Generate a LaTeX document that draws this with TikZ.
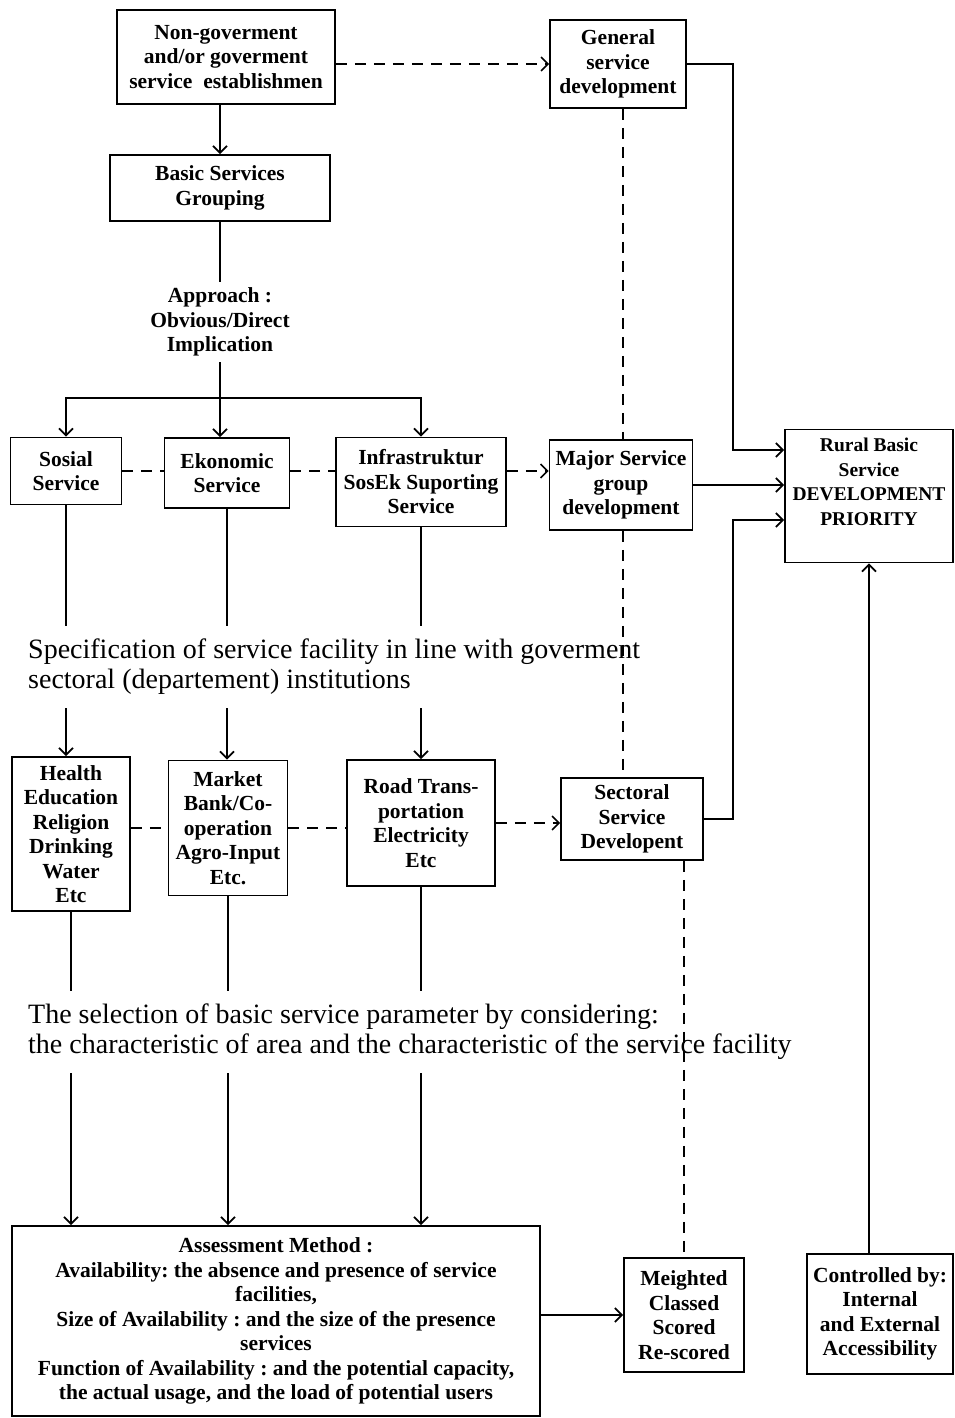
\documentclass[tikz,border=0pt]{standalone}
\usepackage{fontspec}
\setmainfont{Liberation Serif}
\usetikzlibrary{arrows.meta}
\frenchspacing

\begin{document}
\begin{tikzpicture}[x=1pt, y=-1pt,
		blk/.style={draw, line width=1.6pt, align=center, inner sep=0pt, font=\boxfont},
		thk/.style={line width=1.8pt},
		arr/.style={thk, -{Straight Barb[length=7pt, width=14pt, line width=1.8pt]}},
		dsh/.style={line width=1.5pt, dash pattern=on 11pt off 8pt},
		dsharr/.style={dsh, -{Straight Barb[length=7pt, width=14pt, line width=1.6pt]}}]
		
		% Define font sizes
		
		\newcommand{\boxfont}{\bfseries\fontsize{21.5}{24.5}\selectfont}
		
		\newcommand{\smallboxfont}{\bfseries\fontsize{19.5}{24.5}\selectfont}
		
		\newcommand{\bigtext}{\fontsize{28}{30}\selectfont}
		
		\useasboundingbox (0,0) rectangle (954,1418);
		
		% Top row
		
		\node[blk, minimum width=218, minimum height=94] (nongov) at (226,57) {Non-goverment\\and/or goverment\\service\ \ establishmen};
		
		\node[blk, minimum width=136, minimum height=88] (gen) at (618,64) {General\\service\\development};
		
		\node[blk, minimum width=220, minimum height=66] (basic) at (220,188) {Basic Services\\Grouping};
		
		\node[align=center, font=\boxfont, inner sep=6pt] (approach) at (220,322) {Approach :\\Obvious/Direct\\Implication};
		
		% Service groups
		
		\node[blk, minimum width=111, minimum height=67] (sosial) at (66,471) {Sosial\\Service};
		
		\node[blk, minimum width=125, minimum height=70] (ekon) at (227,473) {Ekonomic\\Service};
		
		\node[blk, minimum width=170, minimum height=89] (infra) at (421,482) {Infrastruktur\\SosEk Suporting\\Service};
		
		\node[blk, minimum width=143, minimum height=90] (major) at (621,485) {Major Service\\group\\development};
		
		\node[blk, font=\smallboxfont, minimum width=168, minimum height=133] (rural) at (869,496) {Rural Basic\\Service\\DEVELOPMENT\\PRIORITY\\[4pt]};
		
		\node[align=left, anchor=west, font=\bigtext, inner xsep=0pt, inner ysep=13pt] (spec) at (28,667) {Specification of service facility in line with goverment\\sectoral (departement) institutions};
		
		% Sectoral facilities
		
		\node[blk, minimum width=118, minimum height=154] (health) at (71,834) {Health\\Education\\Religion\\Drinking\\Water\\Etc};
		
		\node[blk, minimum width=119, minimum height=135] (market) at (228,828) {Market\\Bank/Co-\\operation\\Agro-Input\\Etc.};
		
		\node[blk, minimum width=148, minimum height=126] (road) at (421,823) {Road Trans-\\portation\\Electricity\\Etc};
		
		\node[blk, minimum width=142, minimum height=82] (sect) at (632,819) {Sectoral\\Service\\Developent};
		
		\node[align=left, anchor=west, font=\bigtext, inner xsep=0pt, inner ysep=13pt] (sel) at (28,1032) {The selection of basic service parameter by considering:\\the characteristic of area and the characteristic of the service facility};
		
		% Bottom row
		
		\node[blk, minimum width=528, minimum height=190] (assess) at (276,1321) {Assessment Method :\\Availability: the absence and presence of service\\facilities,\\Size of Availability : and the size of the presence\\services\\Function of Availability : and the potential capacity,\\the actual usage, and the load of potential users};
		
		\node[blk, minimum width=120, minimum height=114] (meight) at (684,1315) {Meighted\\Classed\\Scored\\Re-scored};
		
		\node[blk, minimum width=146, minimum height=120] (ctrl) at (880,1314) {Controlled by:\\Internal\\and External\\Accessibility};
		
		% Main flow
		
		\draw[arr] (basic.north |- nongov.south) -- (basic.north);
		
		\draw[thk] (basic.south) -- (approach.north);
		
		\coordinate (split) at (218,398);
		
		\draw[thk] (approach.south) -- (approach.south |- split);
		
		\draw[arr] (approach.south |- split) -| (sosial.north);
		
		\draw[arr] (approach.south |- split) -| (infra.north);
		
		\draw[arr] (approach.south) -- (approach.south |- ekon.north);
		
		\draw[thk] (sosial.south) -- (sosial.south |- spec.north);
		
		\draw[thk] (ekon.south) -- (ekon.south |- spec.north);
		
		\draw[thk] (infra.south) -- (infra.south |- spec.north);
		
		\draw[arr] (sosial.south |- spec.south) -- (sosial.south |- health.north);
		
		\draw[arr] (ekon.south |- spec.south) -- (ekon.south |- market.north);
		
		\draw[arr] (infra.south |- spec.south) -- (infra.south |- road.north);
		
		\draw[thk] (health.south) -- (health.south |- sel.north);
		
		\draw[thk] (market.south) -- (market.south |- sel.north);
		
		\draw[thk] (road.south) -- (road.south |- sel.north);
		
		\draw[arr] (health.south |- sel.south) -- (health.south |- assess.north);
		
		\draw[arr] (market.south |- sel.south) -- (market.south |- assess.north);
		
		\draw[arr] (road.south |- sel.south) -- (road.south |- assess.north);
		
		\draw[arr] (assess.east |- meight.west) -- (meight.west);
		
		% Dashed links
		
		\draw[dsharr] (nongov.east |- gen.west) -- (gen.west);
		
		\draw[dsh] (sosial.east) -- (sosial.east -| ekon.west);
		
		\draw[dsh] (ekon.east |- sosial.east) -- (sosial.east -| infra.west);
		
		\draw[dsharr] (infra.east |- sosial.east) -- (sosial.east -| major.west);
		
		\draw[dsh] (health.east |- market.east) -- (market.west);
		
		\draw[dsh] (market.east) -- (market.east -| road.west);
		
		\draw[dsharr] (road.east) -- (road.east -| sect.west);
		
		\draw[dsh] ([xshift=5pt]gen.south) -- ([xshift=5pt]gen.south |- major.north);
		
		\draw[dsh] ([xshift=2pt]major.south) -- ([xshift=2pt]major.south |- sect.north);
		
		\draw[dsh] (meight.north |- sect.south) -- (meight.north);
		
		% Links into the priority box
		
		\coordinate (bus) at (733,0);
		
		\coordinate (rin1) at ([yshift=46pt]rural.west);
		
		\coordinate (rin3) at ([yshift=-24pt]rural.west);
		
		\draw[arr] (gen.east) -| (bus |- rin1) -- (rin1);
		
		\draw[arr] (major.east) -- (major.east -| rural.west);
		
		\draw[arr] (sect.east) -| (bus |- rin3) -- (rin3);
		
		\draw[arr] (rural.south |- ctrl.north) -- (rural.south);
		
	\end{tikzpicture}
\end{document}
